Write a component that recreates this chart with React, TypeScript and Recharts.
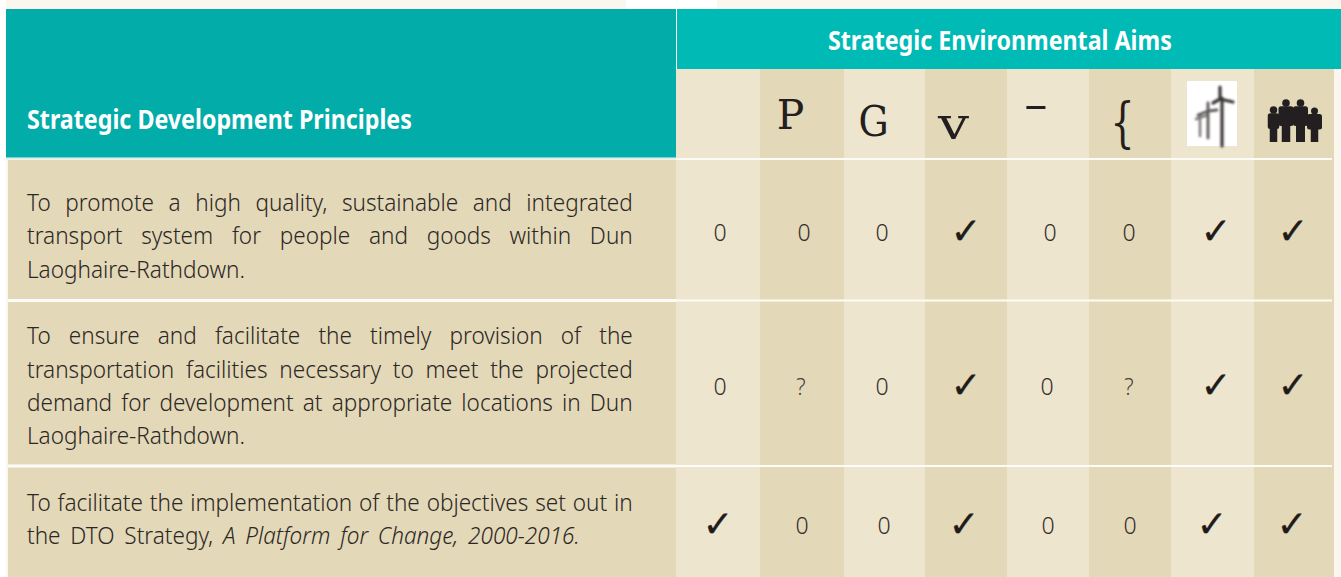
import { ReferenceArea, Scatter, ScatterChart, XAxis, YAxis } from "recharts";

const WIDTH = 1341;
const HEIGHT = 577;

// table content
const leftTitle = "Strategic Development Principles";
const rightTitle = "Strategic Environmental Aims";
const aimSymbols = ["", "P", "G", "v", "¯", "{", "turbines", "family"];

const rowOneLines = [
  "To promote a high quality, sustainable and integrated",
  "transport system for people and goods within Dun",
  "Laoghaire-Rathdown.",
];
const rowTwoLines = [
  "To ensure and facilitate the timely provision of the",
  "transportation facilities necessary to meet the projected",
  "demand for development at appropriate locations in Dun",
  "Laoghaire-Rathdown.",
];
const rowThreeLines = [
  "To facilitate the implementation of the objectives set out in",
  "the DTO Strategy, A Platform for Change, 2000-2016.",
];
const italicPart = "A Platform for Change, 2000-2016.";

const rowOneMarks = ["0", "0", "0", "✓", "0", "0", "✓", "✓"];
const rowTwoMarks = ["0", "?", "0", "✓", "0", "?", "✓", "✓"];
const rowThreeMarks = ["✓", "0", "0", "✓", "0", "0", "✓", "✓"];

// layout, in pixels of the picture
const columnEdges = [676, 760, 844, 925, 1007, 1089, 1171, 1254, 1334];
const lineWidths = [
  [606, 606, 218],
  [606, 606, 606, 218],
  [606, 553],
];
const lineBaselines = [
  [211, 244, 278],
  [344, 377.5, 411, 444],
  [511, 544],
];
const markX = [
  [720, 804, 882, 966, 1050, 1129, 1216, 1293],
  [720, 801, 882, 966, 1047, 1129, 1216, 1293],
  [718, 802, 884, 964, 1048, 1130, 1212, 1292],
];
const markY = [232.5, 386.5, 525.5];
const symbolX = [0, 790.5, 873.5, 953.5, 1036, 1122.5, 1212, 1294];
const symbolY = [0, 129, 135.5, 139, 137, 141, 113, 122];
const symbolSize = [0, 41, 42, 44, 41, 55, 0, 0];
const symbolStretch = [1, 1, 0.9, 1.25, 1.6, 0.7, 1, 1];

const FONT = '"Noto Sans", sans-serif';
const INK = "#2b2724";
const LIGHT = "#ede5ce";
const DARK = "#e3d8b8";
const PALE = "#fbf7ef";
const RULE = "#fdfbf5";

const ctx = document.createElement("canvas").getContext("2d")!;
const measure = (text: string, font: string) => {
  ctx.font = font;
  return ctx.measureText(text).width;
};

const BODY_PX = 23.5;
const bodyFont = `300 ${BODY_PX}px ${FONT}`;
const italicFont = `italic 300 ${BODY_PX}px ${FONT}`;
const squeeze = 218 / measure("Laoghaire-Rathdown.", bodyFont);

const allRows = [rowOneLines, rowTwoLines, rowThreeLines];
const allMarks = [rowOneMarks, rowTwoMarks, rowThreeMarks];

const lineData = allRows.flatMap((lines, r) =>
  lines.map((text, i) => ({ x: 27, y: lineBaselines[r][i], text, width: lineWidths[r][i] }))
);
const markData = allMarks.flatMap((marks, r) =>
  marks.map((mark, c) => ({ x: markX[r][c], y: markY[r], mark }))
);
const symbolData = aimSymbols
  .map((symbol, i) => ({
    x: symbolX[i],
    y: symbolY[i],
    symbol,
    size: symbolSize[i],
    stretch: symbolStretch[i],
  }))
  .filter((d) => d.symbol !== "");
const titleData = [
  { x: 27, y: 129, text: leftTitle, width: 385 },
  { x: 828, y: 50, text: rightTitle, width: 344 },
];

function BodyLine({ cx, cy, payload }: any) {
  const { text, width } = payload;
  const italicAt = text.indexOf(italicPart);
  const plain = italicAt >= 0 ? text.slice(0, italicAt) : text;
  const italic = italicAt >= 0 ? italicPart : "";
  const natural = measure(plain, bodyFont) + (italic ? measure(italic, italicFont) : 0);
  const gaps = text.split(" ").length - 1;
  const spacing = gaps > 0 ? (width / squeeze - natural) / gaps : 0;
  return (
    <text
      transform={`translate(${cx},${cy}) scale(${squeeze},1)`}
      fontFamily={FONT}
      fontWeight={300}
      fontSize={BODY_PX}
      fill={INK}
      wordSpacing={spacing}
      xmlSpace="preserve"
    >
      <tspan>{plain}</tspan>
      {italic ? <tspan fontStyle="italic">{italic}</tspan> : null}
    </text>
  );
}

function Title({ cx, cy, payload }: any) {
  const font = `bold 26px ${FONT}`;
  const k = payload.width / measure(payload.text, font);
  return (
    <text
      transform={`translate(${cx},${cy}) scale(${k},1)`}
      fontFamily={FONT}
      fontWeight="bold"
      fontSize={26}
      fill="#ffffff"
    >
      {payload.text}
    </text>
  );
}

function Mark({ cx, cy, payload }: any) {
  if (payload.mark === "✓") {
    return (
      <text
        x={cx}
        y={cy + 11.5}
        textAnchor="middle"
        fontFamily="DejaVu Sans"
        fontSize={37}
        fill="#1f1b19"
        stroke="#1f1b19"
        strokeWidth={0.3}
      >
        ✓
      </text>
    );
  }
  const small = payload.mark === "?";
  return (
    <text
      transform={`translate(${cx},${cy + 8.5}) scale(${squeeze},1)`}
      textAnchor="middle"
      fontFamily={FONT}
      fontWeight={300}
      fontSize={small ? 23 : 24}
      fill={small ? "#4a4540" : "#35302c"}
    >
      {payload.mark}
    </text>
  );
}

function Turbines({ cx, cy }: { cx: number; cy: number }) {
  return (
    <g transform={`translate(${cx - 1212},${cy - 113})`}>
      <rect x={1187} y={81} width={50} height={65} fill="#ffffff" />
      <g filter="url(#turbineBlur)" fill="none" strokeLinecap="round">
        <path d="M1200 115V136M1196 119L1208 115" stroke="#7d7a78" strokeWidth={2.5} />
        <path d="M1208 103V138M1198 115L1208 111L1217 110" stroke="#5b5755" strokeWidth={2.8} />
        <path d="M1222 98V146M1220 87L1220 99L1233 102M1220 99L1213 103" stroke="#3a3634" strokeWidth={3.2} />
      </g>
    </g>
  );
}

function Person({ x, head, r, w, legs, feet }: { x: number; head: number; r: number; w: number; legs: number; feet: number }) {
  const top = head + r - 0.5;
  const hip = top + (feet - top) * 0.55;
  return (
    <g fill="#231f20">
      <circle cx={x} cy={head} r={r} />
      <rect x={x - w / 2} y={top} width={w} height={hip - top} rx={2.5} />
      <rect x={x - legs / 2} y={hip - 1} width={legs} height={feet - hip + 1} />
    </g>
  );
}

function Family({ cx, cy }: { cx: number; cy: number }) {
  return (
    <g transform={`translate(${cx - 1294},${cy - 122})`}>
      <Person x={1273.5} head={110} r={3.8} w={11.5} legs={7.5} feet={142} />
      <Person x={1286} head={103} r={3.8} w={15} legs={8.5} feet={142} />
      <Person x={1300.5} head={103} r={3.8} w={15} legs={9} feet={142} />
      <Person x={1314.5} head={111} r={3.5} w={15} legs={7.5} feet={142} />
    </g>
  );
}

function AimSymbol({ cx, cy, payload }: any) {
  if (payload.symbol === "turbines") return <Turbines cx={cx} cy={cy} />;
  if (payload.symbol === "family") return <Family cx={cx} cy={cy} />;
  return (
    <text
      transform={`translate(${cx},${cy}) scale(${payload.stretch},1)`}
      textAnchor="middle"
      fontFamily="DejaVu Serif"
      fontSize={payload.size}
      fill="#231f20"
    >
      {payload.symbol}
    </text>
  );
}

const solid = { fillOpacity: 1, stroke: "none", ifOverflow: "visible" as const };

export default function App() {
  return (
    <div style={{ position: "absolute", left: 0, top: 0, width: WIDTH, height: HEIGHT, overflow: "hidden" }}>
      <ScatterChart width={WIDTH} height={HEIGHT} margin={{ top: 0, right: 0, bottom: 0, left: 0 }}>
        <defs>
          <filter id="turbineBlur" x="-20%" y="-20%" width="140%" height="140%">
            <feGaussianBlur stdDeviation={0.8} />
          </filter>
        </defs>
        <XAxis type="number" dataKey="x" domain={[0, WIDTH]} hide />
        <YAxis type="number" dataKey="y" domain={[0, HEIGHT]} reversed hide />

        {/* paper strips around the table */}
        <ReferenceArea x1={6} x2={626} y1={0} y2={9} fill={PALE} {...solid} />
        <ReferenceArea x1={717} x2={WIDTH} y1={0} y2={9} fill={PALE} {...solid} />
        <ReferenceArea x1={1334} x2={WIDTH} y1={69} y2={HEIGHT} fill={PALE} {...solid} />
        <ReferenceArea x1={6} x2={8} y1={157} y2={HEIGHT} fill={PALE} {...solid} />

        {/* headers */}
        <ReferenceArea x1={6} x2={676} y1={9} y2={157.5} fill="#02aca8" {...solid} />
        <ReferenceArea x1={677} x2={WIDTH} y1={9} y2={69} fill="#00bab6" {...solid} />

        {/* left cells */}
        <ReferenceArea x1={8} x2={677} y1={160} y2={299} fill={DARK} {...solid} />
        <ReferenceArea x1={8} x2={677} y1={302} y2={464.5} fill={DARK} {...solid} />
        <ReferenceArea x1={8} x2={677} y1={467.5} y2={HEIGHT} fill={DARK} {...solid} />

        {/* aim columns */}
        {columnEdges.slice(0, -1).map((edge, i) => (
          <ReferenceArea
            key={edge}
            x1={edge}
            x2={columnEdges[i + 1]}
            y1={69}
            y2={HEIGHT}
            fill={i % 2 === 0 ? LIGHT : DARK}
            {...solid}
          />
        ))}

        {/* row rules */}
        <ReferenceArea x1={6} x2={676} y1={157.5} y2={158.5} fill="#6fd8d3" {...solid} />
        <ReferenceArea x1={6} x2={676} y1={158.5} y2={160} fill="#f6f1e4" {...solid} />
        <ReferenceArea x1={676} x2={1332} y1={158} y2={160} fill={RULE} {...solid} />
        <ReferenceArea x1={8} x2={1332} y1={299.5} y2={301.5} fill={RULE} {...solid} />
        <ReferenceArea x1={8} x2={1332} y1={465} y2={467} fill={RULE} {...solid} />

        <Scatter data={titleData} shape={Title} isAnimationActive={false} />
        <Scatter data={symbolData} shape={AimSymbol} isAnimationActive={false} />
        <Scatter data={lineData} shape={BodyLine} isAnimationActive={false} />
        <Scatter data={markData} shape={Mark} isAnimationActive={false} />
      </ScatterChart>
    </div>
  );
}
